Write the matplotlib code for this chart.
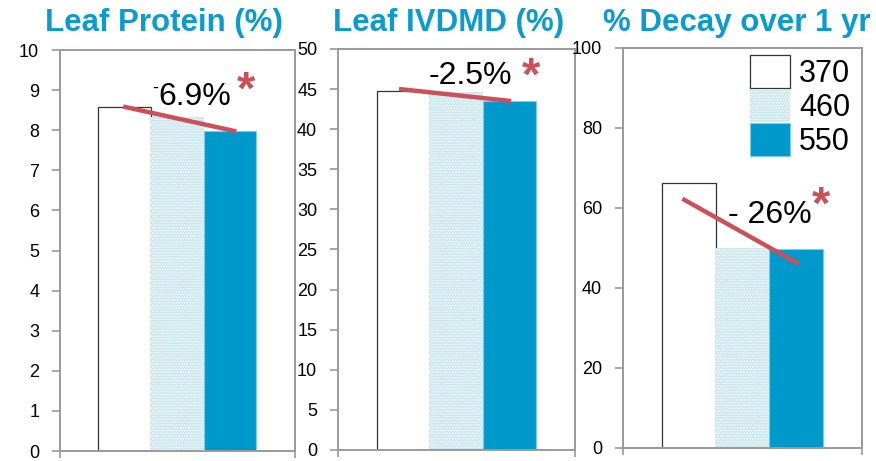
import numpy as np
import matplotlib
matplotlib.use("Agg")
import matplotlib.pyplot as plt

plt.rcParams["font.family"] = ["Liberation Sans", "DejaVu Sans"]
plt.rcParams["hatch.linewidth"] = 0.6

# CO2 levels (ppm) and panel values
co2_levels = ["370", "460", "550"]
protein = [8.58, 8.32, 7.99]
ivdmd = [44.7, 44.6, 43.5]
decay = [66.3, 50.1, 49.8]

# red trend line ends (start, end) for each panel
protein_trend_x = [-1.03, 1.12]
protein_trend_y = [8.59, 7.97]
ivdmd_trend_x = [-1.08, 1.03]
ivdmd_trend_y = [45.0, 43.5]
decay_trend_x = [-1.12, 1.05]
decay_trend_y = [62.3, 46.0]

titles = ["Leaf Protein (%)", "Leaf IVDMD (%)", "% Decay over 1 yr"]
changes = ["6.9%", "-2.5%", "- 26%"]

BLUE = "#0099cc"
TITLE_BLUE = "#0b9bd0"
RED = "#cb505a"
GRID_GRAY = "#9a9a9a"

bar_styles = [
    dict(facecolor="white", edgecolor="#333333", linewidth=0.9),
    dict(facecolor="#cde9ef", edgecolor="white", linewidth=0, hatch="......"),
    dict(facecolor=BLUE, edgecolor="#7fcbe5", linewidth=0.8),
]

fig = plt.figure(figsize=(8.76, 4.61), dpi=100)

panels = [
    # rect, values, ylim, step, trend x, trend y, text xy, star xy
    ([0.0685, 0.0215, 0.268, 0.870], protein, 10, 1,
     protein_trend_x, protein_trend_y, (0.33, 8.83), (1.3, 8.95)),
    ([0.3858, 0.0239, 0.2705, 0.870], ivdmd, 50, 5,
     ivdmd_trend_x, ivdmd_trend_y, (0.27, 46.6), (1.4, 46.35)),
    ([0.711, 0.0282, 0.273, 0.868], decay, 100, 20,
     decay_trend_x, decay_trend_y, (0.52, 58.3), (1.46, 60.3)),
]

title_x = [164, 449, 737]

for i, (rect, vals, ymax, step, tx, ty, txt_xy, star_xy) in enumerate(panels):
    ax = fig.add_axes(rect)
    pos = np.arange(len(vals)) - 1
    for j in range(len(vals)):
        ax.bar(pos[j], vals[j], width=1.0, label=co2_levels[j], zorder=2,
               **bar_styles[j])
    ax.plot(tx, ty, color=RED, lw=3.2, solid_capstyle="butt", zorder=3)

    ax.set_xlim(-2.23, 2.23)
    ax.set_ylim(0, ymax)
    ax.set_yticks(np.arange(0, ymax + step / 2, step))
    ax.set_xticks([-2.23, 2.23])
    ax.set_xticklabels(["", ""])
    ax.tick_params(axis="y", length=6, width=1.2, color=GRID_GRAY,
                   labelsize=13, pad=9)
    ax.tick_params(axis="x", length=5, width=1.2, color=GRID_GRAY)
    for sp in ax.spines.values():
        sp.set_color(GRID_GRAY)
        sp.set_linewidth(1.4)

    ax.text(txt_xy[0], txt_xy[1], changes[i], fontsize=23,
            ha="center", va="center", zorder=4)
    if i == 0:
        # small raised minus sign in front of the first label
        ax.text(txt_xy[0] - 0.76, txt_xy[1] + 0.22, "-", fontsize=13,
                ha="center", va="center")
    ax.text(star_xy[0], star_xy[1], "*", fontsize=34, color=RED,
            ha="center", va="center", fontweight="bold")

    fig.text(title_x[i] / 876, 1 - 23 / 461, titles[i], color=TITLE_BLUE,
             fontsize=22.5, fontweight="bold", ha="center", va="center")

    if i == 2:
        ax.legend(loc="upper left", bbox_to_anchor=(0.531, 0.9825),
                  frameon=False, fontsize=22, borderpad=0, borderaxespad=0,
                  handlelength=1.31, handleheight=1.31, labelspacing=0,
                  handletextpad=0.3)

fig.savefig("out.png", dpi=100)
